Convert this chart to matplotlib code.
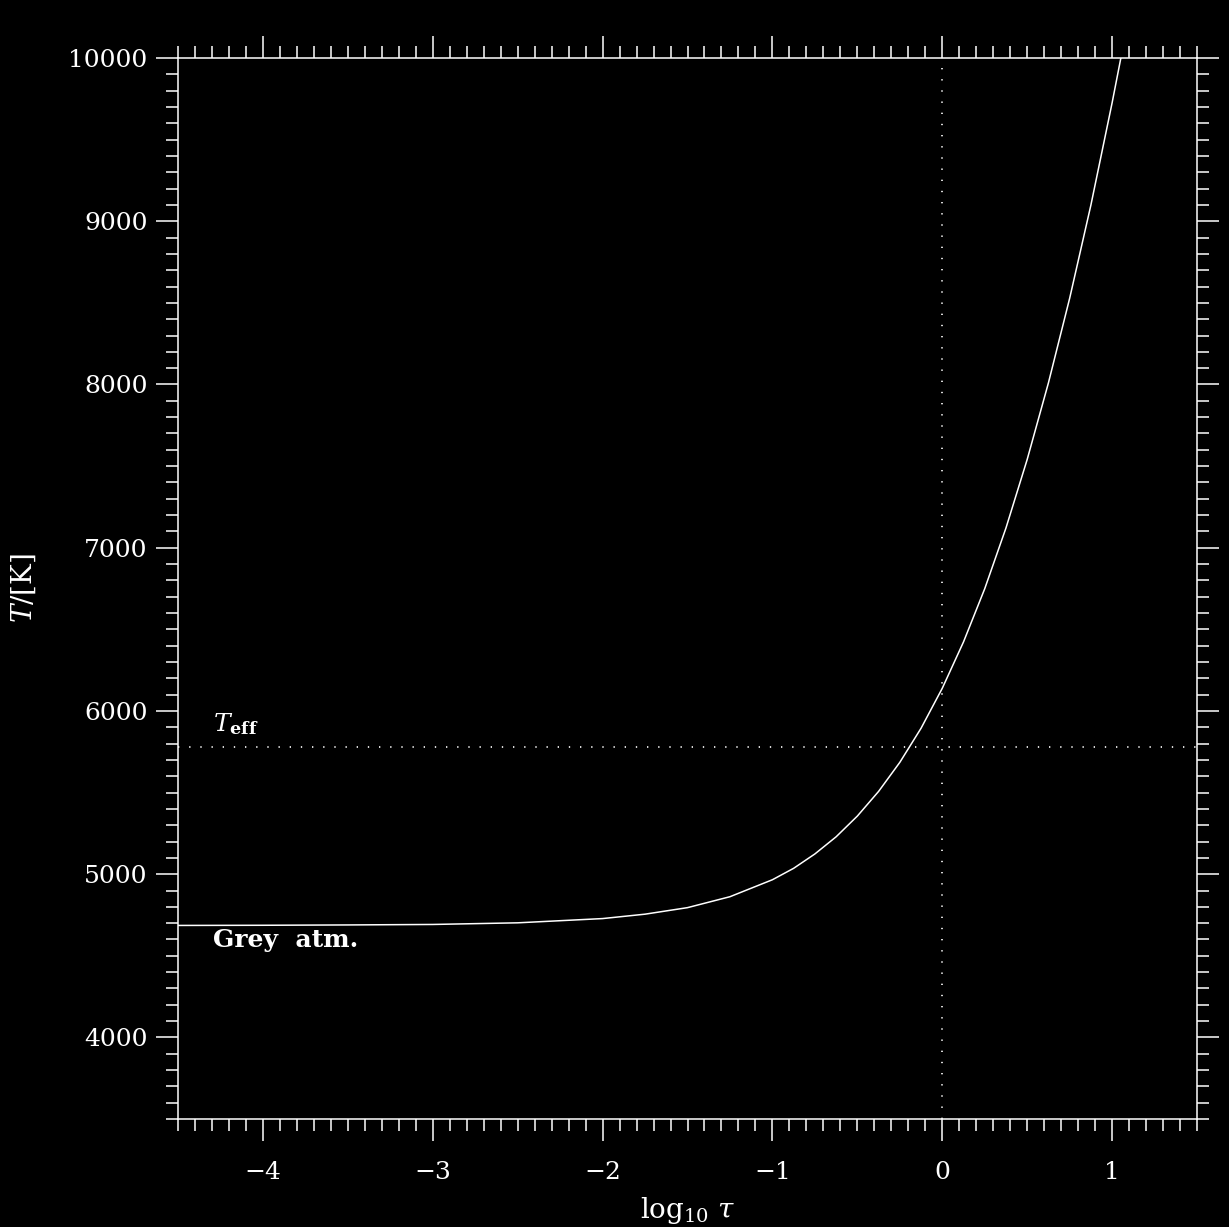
import matplotlib
matplotlib.use('Agg')
import matplotlib.pyplot as plt
from matplotlib.ticker import MultipleLocator

# Grey atmosphere temperature profile
log_tau = [-4.5, -4.0, -3.5, -3.0, -2.5, -2.0, -1.75, -1.5, -1.25, -1.0,
           -0.875, -0.75, -0.625, -0.5, -0.375, -0.25, -0.125, 0.0,
           0.125, 0.25, 0.375, 0.5, 0.625, 0.75, 0.875, 1.0, 1.06]
temp = [4686, 4687, 4689, 4692, 4702, 4728, 4755, 4795, 4862, 4966,
        5036, 5124, 5229, 5356, 5507, 5685, 5894, 6139,
        6423, 6749, 7121, 7541, 8010, 8528, 9099, 9726, 10046]
t_eff = 5777
x_ticks = [-4, -3, -2, -1, 0, 1]
y_ticks = [4000, 5000, 6000, 7000, 8000, 9000, 10000]

plt.rcParams['font.family'] = 'DejaVu Serif'
plt.rcParams['mathtext.fontset'] = 'dejavuserif'

fig = plt.figure(figsize=(12.29, 12.27), dpi=100, facecolor='black')
ax = fig.add_axes([0.1448, 0.088, 0.8292, 0.8647], facecolor='black')

ax.plot(log_tau, temp, color='white', linewidth=1.1)
ax.axhline(t_eff, color='white', linewidth=1.2, linestyle=(0, (0.8, 5.9)))
ax.axvline(0, color='white', linewidth=1.2, linestyle=(0, (0.8, 5.9)))

ax.set_xlim(-4.5, 1.5)
ax.set_ylim(3500, 10000)
ax.set_xticks(x_ticks)
ax.set_xticklabels(['\u2212%d' % -v if v < 0 else str(v) for v in x_ticks])
ax.set_yticks(y_ticks)
ax.xaxis.set_minor_locator(MultipleLocator(0.1))
ax.yaxis.set_minor_locator(MultipleLocator(100))

for s in ax.spines.values():
    s.set_color('white')
    s.set_linewidth(1.1)
ax.tick_params(which='both', direction='out', colors='white', top=True, right=True, width=1.1)
ax.tick_params(which='major', length=16, labelsize=18)
ax.tick_params(which='minor', length=8.5)
ax.tick_params(axis='x', which='major', pad=14)
ax.tick_params(axis='y', which='major', pad=6)

ax.set_xlabel(r'$\log_{10}\,\tau$', color='white', fontsize=20, labelpad=8)
ax.set_ylabel(r'$T$/[K]', color='white', fontsize=20, labelpad=22)

ax.text(-4.294, 5876, r'$T_{\mathbf{eff}}$', color='white', fontsize=18, va='baseline')
ax.text(-4.294, 4595, 'Grey  atm.', color='white', fontsize=18, fontweight='bold', va='center')

fig.savefig('out.png', dpi=100, facecolor='black')
